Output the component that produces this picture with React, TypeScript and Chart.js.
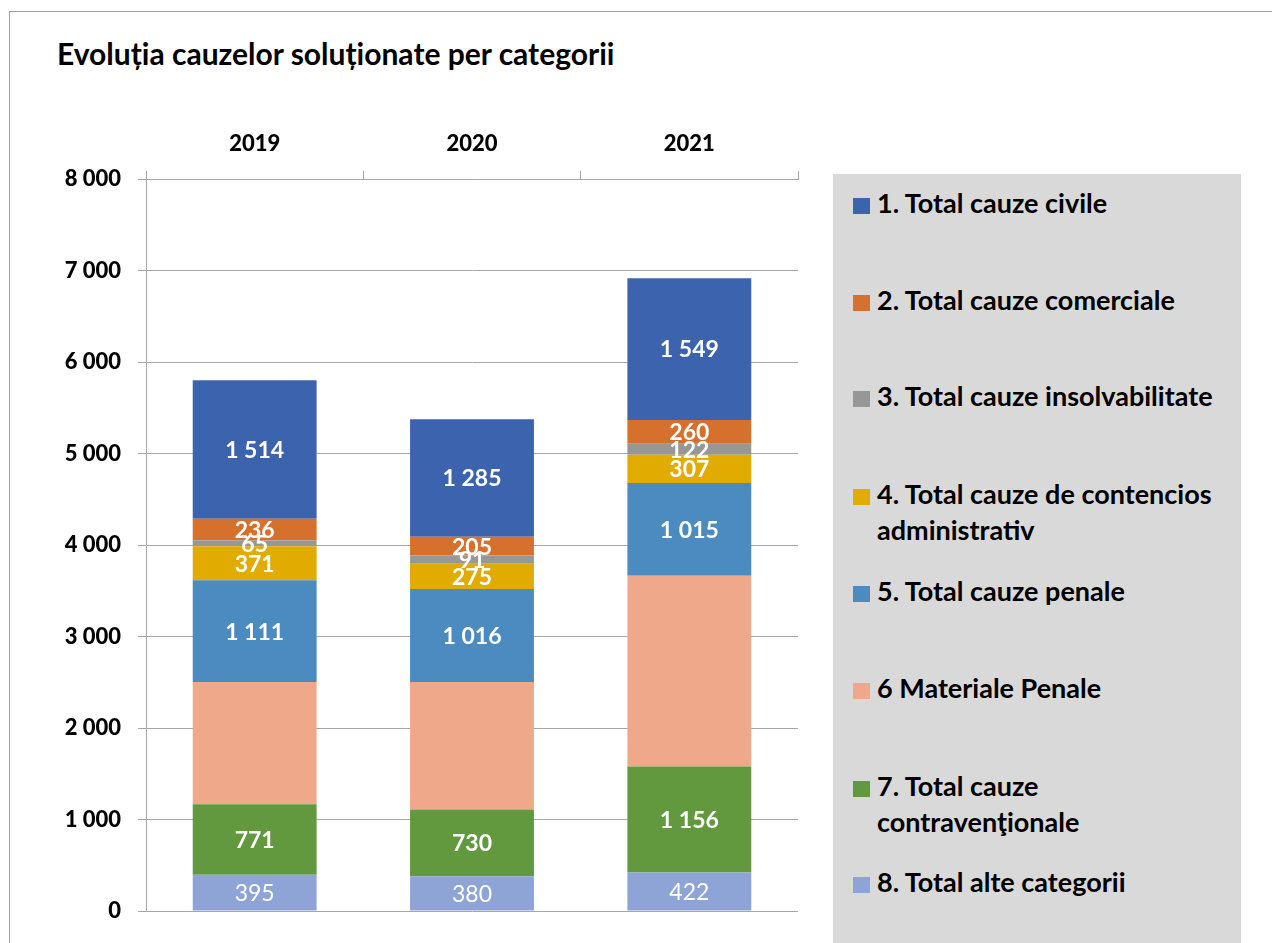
import React, { useEffect, useRef } from "react";
import { Chart, registerables } from "chart.js";

Chart.register(...registerables);

const years = ["2019", "2020", "2021"];

const civile = [1514, 1285, 1549];
const comerciale = [236, 205, 260];
const insolvabilitate = [65, 91, 122];
const contencios = [371, 275, 307];
const penale = [1111, 1016, 1015];
const materialePenale = [1337, 1393, 2085];
const contraventionale = [771, 730, 1156];
const alteCategorii = [395, 380, 422];

const yTicks = [0, 1000, 2000, 3000, 4000, 5000, 6000, 7000, 8000];

const FONT = "Lato, 'Open Sans', sans-serif";
const HEAVY = "900";

const fmt = (n: number) => String(n).replace(/\B(?=(\d{3})+(?!\d))/g, " ");

type Series = { label: string[]; data: number[]; color: string; showLabel: boolean; bold: boolean };

const seriesBottomUp: Series[] = [
  { label: ["8. Total alte categorii"], data: alteCategorii, color: "#8FA4D6", showLabel: true, bold: false },
  { label: ["7. Total cauze", "contravenţionale"], data: contraventionale, color: "#62993E", showLabel: true, bold: true },
  { label: ["6 Materiale Penale"], data: materialePenale, color: "#F0A88A", showLabel: false, bold: true },
  { label: ["5. Total cauze penale"], data: penale, color: "#4C8BC0", showLabel: true, bold: true },
  { label: ["4. Total cauze de contencios", "administrativ"], data: contencios, color: "#E2AB00", showLabel: true, bold: true },
  { label: ["3. Total cauze insolvabilitate"], data: insolvabilitate, color: "#979797", showLabel: true, bold: true },
  { label: ["2. Total cauze comerciale"], data: comerciale, color: "#D5702D", showLabel: true, bold: true },
  { label: ["1. Total cauze civile"], data: civile, color: "#3C63AD", showLabel: true, bold: true },
];

const legendTops = [205, 302, 398, 496, 593, 690, 788, 884];

const labelPlugin = {
  id: "segLabels",
  afterDatasetsDraw(chart: any) {
    const ctx = chart.ctx;
    ctx.save();
    ctx.textAlign = "center";
    ctx.textBaseline = "middle";
    ctx.fillStyle = "#FFFFFF";
    chart.data.datasets.forEach((ds: any, di: number) => {
      const s = seriesBottomUp[di];
      if (!s.showLabel) return;
      const meta = chart.getDatasetMeta(di);
      ctx.font = `${s.bold ? "bold " : ""}23px ${FONT}`;
      meta.data.forEach((el: any, i: number) => {
        const y = (el.y + el.base) / 2;
        ctx.fillText(fmt(ds.data[i]), el.x, y + 1);
      });
    });
    ctx.restore();
  },
};

export default function App() {
  const ref = useRef<HTMLCanvasElement>(null);

  useEffect(() => {
    if (!ref.current) return;
    const chart = new Chart(ref.current, {
      type: "bar",
      data: {
        labels: years,
        datasets: seriesBottomUp.map((s) => ({
          label: s.label.join(" "),
          data: s.data,
          backgroundColor: s.color,
          borderWidth: 0,
          categoryPercentage: 1,
          barPercentage: 0.57,
        })),
      },
      options: {
        responsive: false,
        animation: false,
        devicePixelRatio: 1,
        layout: { padding: { top: 100, bottom: 32, right: 22, left: 0 } },
        plugins: {
          legend: { display: false },
          title: { display: false },
          tooltip: { enabled: false },
        },
        scales: {
          x: {
            position: "top",
            stacked: true,
            grid: {
              offset: true,
              drawOnChartArea: false,
              drawTicks: true,
              tickLength: 8,
              color: "#A6A6A6",
            },
            border: { display: true, color: "#A6A6A6" },
            ticks: {
              color: "#000000",
              font: { family: FONT, size: 22, weight: HEAVY },
              padding: 14,
            },
            afterFit: (scale: any) => {
              scale.height = 79;
            },
          },
          y: {
            stacked: true,
            min: 0,
            max: 8000,
            afterBuildTicks: (scale: any) => {
              scale.ticks = yTicks.map((v) => ({ value: v }));
            },
            grid: {
              color: "#A6A6A6",
              tickLength: 8,
              drawTicks: true,
            },
            border: { display: true, color: "#A6A6A6" },
            ticks: {
              color: "#000000",
              font: { family: FONT, size: 22, weight: HEAVY },
              padding: 17,
              callback: (v: any) => fmt(Number(v)),
            },
            afterFit: (scale: any) => {
              scale.width = 146;
            },
          },
        },
      },
      plugins: [labelPlugin],
    });
    return () => chart.destroy();
  }, []);

  return (
    <div style={{ position: "absolute", left: 0, top: 0, width: 1272, height: 943, overflow: "hidden", background: "#fff", fontFamily: FONT }}>
      <div style={{ position: "absolute", left: 9, top: 11, width: 1400, height: 1100, border: "1px solid #A0A0A0" }} />
      <div style={{ position: "absolute", left: 57, top: 35, fontSize: 30, fontWeight: "bold", color: "#000", whiteSpace: "nowrap", lineHeight: "36px" }}>
        Evoluția cauzelor soluționate per categorii
      </div>
      <canvas ref={ref} width={820} height={943} style={{ position: "absolute", left: 0, top: 0, width: 820, height: 943 }} />
      <div style={{ position: "absolute", left: 833, top: 174, width: 408, height: 800, background: "#D9D9D9" }}>
        {seriesBottomUp
          .slice()
          .reverse()
          .map((s, i) => (
            <div key={i} style={{ position: "absolute", left: 0, top: legendTops[i] - 174 - 20, width: 408 }}>
              <div style={{ position: "absolute", left: 20, top: 13, width: 17, height: 16, background: s.color }} />
              <div style={{ position: "absolute", left: 44, top: 0, fontSize: 27, fontWeight: "bold", color: "#000", lineHeight: "36px", whiteSpace: "nowrap" }}>
                {s.label.map((l, j) => (
                  <div key={j}>{l}</div>
                ))}
              </div>
            </div>
          ))}
      </div>
    </div>
  );
}
